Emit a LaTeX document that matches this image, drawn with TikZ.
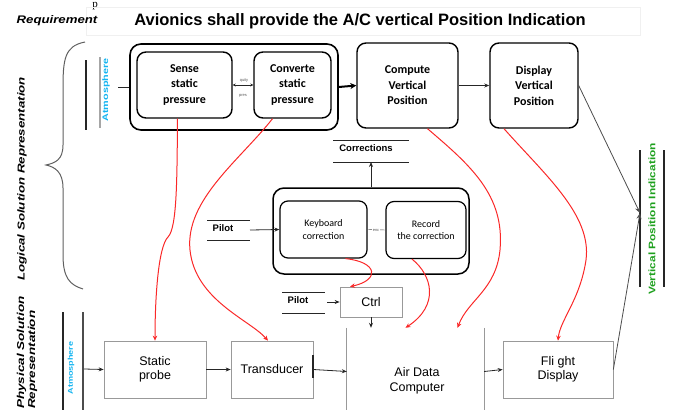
\documentclass[tikz,border=0pt]{standalone}
\usepackage{fontspec}
\setmainfont{Liberation Sans}
\newfontfamily\calfont{Carlito}
\newfontfamily\serfont{Liberation Serif}
\usetikzlibrary{arrows.meta}
\definecolor{atmcyan}{RGB}{20,180,240}
\definecolor{vpigreen}{RGB}{30,160,30}
\definecolor{redline}{RGB}{250,40,40}
\begin{document}
\begin{tikzpicture}[x=1pt,y=-1pt,
  rbox/.style={draw, line width=1.4pt, rounded corners=9pt, align=center, inner sep=0pt,
    font=\calfont\bfseries\fontsize{12}{15.5}\selectfont},
  kbox/.style={draw, line width=1.2pt, rounded corners=8pt, align=center, inner sep=0pt,
    font=\calfont\fontsize{10}{12.5}\selectfont},
  pbox/.style={draw=gray!80, line width=0.7pt, align=center, inner sep=0pt,
    font=\fontsize{12.5}{14.5}\selectfont},
  redarr/.style={draw=redline, line width=1pt, -{Stealth[length=5pt,width=4.5pt]}},
  blk/.style={draw=black!85, line width=0.8pt, -{Stealth[length=5pt,width=4pt]}},
  sidelbl/.style={font=\bfseries\itshape\fontsize{10}{12}\selectfont, rotate=90, align=center},
  barline/.style={draw=black!85, line width=1.4pt},
  pilotlbl/.style={font=\bfseries\fontsize{9.5}{10}\selectfont}
]
\useasboundingbox (0,0) rectangle (673,410);

% stray top fragment and title
\node[font=\serfont\fontsize{11}{11}\selectfont, anchor=base, inner sep=0pt] (pfrag) at (95,7.5) {p};
\draw[gray!12, line width=0.6pt] (86,7) rectangle (640,35);
\node[font=\bfseries\itshape\fontsize{11}{12}\selectfont] (req) at (57,21) {\scalebox{1.2}[1]{Requirement}};
\node[font=\bfseries\fontsize{16.5}{18}\selectfont] (title) at (360,21) {Avionics shall provide the A/C vertical Position Indication};

% left side labels
\node[sidelbl] (logical) at (22,179) {\scalebox{1.33}[1]{Logical Solution Representation}};
\node[sidelbl, align=left, anchor=west, inner sep=0pt] (physical) at (27,409) {\scalebox{1.35}[1]{Physical Solution}\\[-1pt]\scalebox{1.35}[1]{Representation}};
\draw[gray!75!black, line width=1pt] (85,42) .. controls (64,46) and (63,60) .. (63,90)
  -- (63,145) .. controls (63,160) and (55,163) .. (46,165)
  .. controls (55,167) and (63,172) .. (63,188) -- (63,255)
  .. controls (63,278) and (70,285) .. (83,289);

% top-left atmosphere
\draw[barline] (86,60) -- (86,130);
\draw[draw=gray!70, line width=1.2pt] (100,57) -- (100,128);
\node[sidelbl, text=atmcyan, font=\bfseries\fontsize{8}{10}\selectfont] (atm1) at (106,90) {\scalebox{1.35}[1]{Atmosphere}};
\coordinate (atm1out) at (118,87);

% top group
\node[rbox, line width=1.6pt, rounded corners=11pt, minimum width=208pt, minimum height=86pt] (grp) at (234,87) {};
\node[rbox, minimum width=95pt, minimum height=66pt] (sense) at (184.5,85) {Sense\\static\\pressure};
\node[rbox, minimum width=77pt, minimum height=66pt] (conv) at (292.5,85) {Converte\\static\\pressure};
\draw[draw=black!85, line width=0.6pt, {Stealth[length=3pt,width=3pt]}-{Stealth[length=3pt,width=3pt]}] (sense.east) -- (conv.west);
\node[font=\fontsize{4}{4}\selectfont, text=gray!70!black] (eq1) at (244,80) {quity};
\node[font=\fontsize{4}{4}\selectfont, text=gray!70!black] (eq2) at (243,96) {pres};

\node[rbox, minimum width=101pt, minimum height=85pt] (comp) at (407.5,85.5) {Compute\\Vertical\\Position};
\node[rbox, minimum width=88pt, minimum height=85pt] (disp) at (534,85.5) {Display\\Vertical\\Position};

\draw[draw=black!85, line width=1pt] (atm1out) -- (grp.west);
\draw[draw=black, line width=2pt, -{Stealth[length=6pt,width=6pt]}] (grp.east) -- (comp.west);
\draw[blk] (comp.east) -- (disp.west);

% corrections
\node[pilotlbl] (corr) at (366,148) {Corrections};
\draw[black!85, line width=0.8pt] (333,140) -- (409,140);
\draw[black!85, line width=0.8pt] (333,162) -- (409,162);
\coordinate (corrbot) at (371,162);

\node[rbox, line width=1.5pt, rounded corners=11pt, minimum width=196pt, minimum height=86pt] (cgrp) at (371,231) {};
\node[kbox, minimum width=87pt, minimum height=57pt] (kbd) at (323.5,229.5) {Keyboard\\correction};
\node[kbox, minimum width=80pt, minimum height=57pt] (rec) at (426,230) {Record\\the correction};
\draw[black!70, line width=0.4pt] (kbd.east) -- (rec.west);
\node[font=\fontsize{4}{4}\selectfont, text=gray!70!black, fill=white, inner sep=0.3pt] (enc) at (376,230) {enc};
\draw[blk] (cgrp.north) -- (corrbot);

% pilot 1
\node[pilotlbl] (pilot1) at (223,228) {Pilot};
\draw[black!85, line width=0.8pt] (207,220) -- (250,220);
\draw[black!85, line width=0.8pt] (207,240) -- (250,240);
\coordinate (pilot1out) at (250,230);
\draw[blk] (pilot1out) -- (kbd.west);

% pilot 2 and ctrl
\node[pilotlbl] (pilot2) at (298,300) {Pilot};
\draw[black!85, line width=0.8pt] (282,292) -- (325,292);
\draw[black!85, line width=0.8pt] (282,313) -- (325,313);
\coordinate (pilot2out) at (327,302);
\node[pbox, minimum width=62pt, minimum height=30pt] (ctrl) at (371,302) {Ctrl};
\draw[blk] (pilot2out) -- (ctrl.west);

% physical row
\draw[barline] (63,312) -- (63,412);
\draw[draw=gray!60!black, line width=2pt] (83,312) -- (83,412);
\node[sidelbl, text=atmcyan, font=\bfseries\fontsize{7}{9}\selectfont] (atm2) at (71,368) {\scalebox{1.3}[1]{Atmosphere}};
\coordinate (atm2out) at (84,369);

\node[pbox, minimum width=102pt, minimum height=57pt] (static) at (155,369.5) {Static\\probe};
\node[pbox, minimum width=82pt, minimum height=57pt] (trans) at (272,369.5) {Transducer};
\draw[black!85, line width=1.6pt] (313,355) -- (313,378);
\node[inner sep=0pt, minimum width=137pt, minimum height=87pt] (adc) at (415.5,371.5) {};
\node[align=center, font=\fontsize{12.5}{14.5}\selectfont] (adctxt) at (417,381) {Air Data\\Computer};
\draw[gray!80, line width=0.8pt] (adc.north west) -- (adc.south west);
\draw[gray!80, line width=0.8pt] (adc.north east) -- (adc.south east);
\node[pbox, minimum width=110pt, minimum height=57pt] (flight) at (558,369.5) {Fli ght\\Display};

\draw[blk] (atm2out) -- (static.west);
\draw[blk] (static.east) -- (trans.west);
\draw[blk] (trans.east) -- (adc.west);
\draw[blk] (adc.east) -- (flight.west);
\draw[blk] (ctrl.south) -- (ctrl.south |- adc.north);

% vertical position indication
\draw[barline] (640,150) -- (640,287);
\draw[barline] (664,150) -- (664,287);
\node[sidelbl, text=vpigreen, font=\bfseries\fontsize{9.5}{10}\selectfont] (vpi) at (652,219) {\scalebox{1.25}[1]{Vertical Position Indication}};
\coordinate (ind) at (640,213);
\draw[draw=black!70, line width=0.8pt, -{Stealth[length=6pt,width=5pt]}] (disp.east) -- (ind);
\draw[draw=black!70, line width=0.8pt, -{Stealth[length=6pt,width=5pt]}] (flight.east) -- (ind);

% red trace links
\draw[redarr] ([xshift=-7pt]sense.south) .. controls (177,180) and (177,228) .. (168,237)
  .. controls (158,247) and (155,300) .. (static.north);
\draw[redarr] ([xshift=-20pt]conv.south) .. controls (240,160) and (185,200) .. (190,250)
  .. controls (195,300) and (250,320) .. ([xshift=-4pt]trans.north);
\draw[redarr] ([xshift=20pt]comp.south) .. controls (470,165) and (505,195) .. (500,250)
  .. controls (496,290) and (468,300) .. ([xshift=42pt]adc.north);
\draw[redarr] ([xshift=-30pt]disp.south) .. controls (545,175) and (592,215) .. (586,260)
  .. controls (580,300) and (560,320) .. (flight.north);
\draw[redarr] ([xshift=22pt]kbd.south) .. controls (378,262) and (380,280) .. ([xshift=-21pt]ctrl.north);
\draw[redarr] ([xshift=-14pt]rec.south) .. controls (432,275) and (440,305) .. ([xshift=-10pt]adc.north);
\end{tikzpicture}
\end{document}
